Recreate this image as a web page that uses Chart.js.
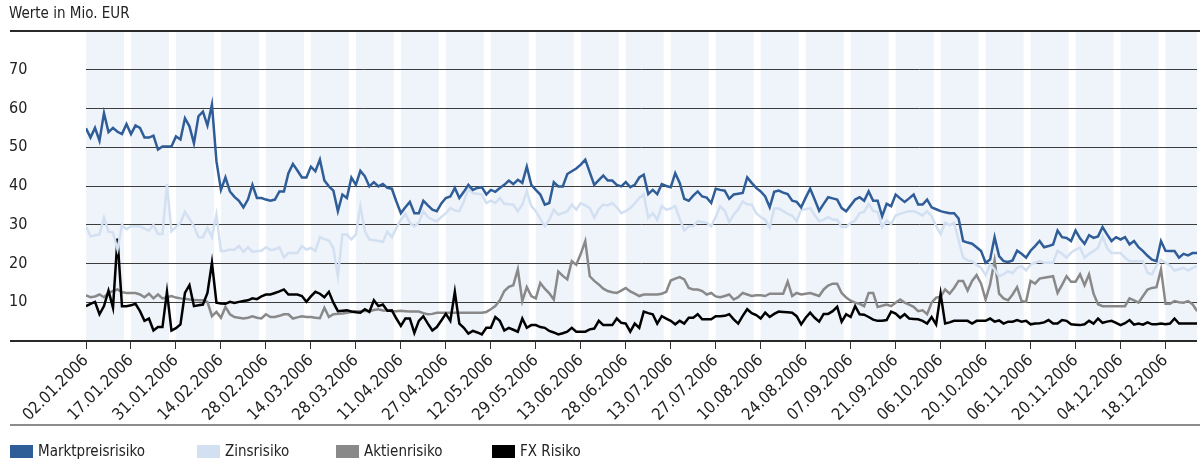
<!DOCTYPE html>
<html>
<head>
<meta charset="utf-8">
<script src="https://cdn.jsdelivr.net/npm/chart.js@4.4.1/dist/chart.umd.min.js"></script>
<style>
  html, body { margin: 0; padding: 0; background: #fff; }
  #wrap { position: relative; width: 1203px; height: 465px; }
  #legend { position: absolute; left: 10px; top: 442px; display: flex; color: #222;
    font: 15px "DejaVu Sans Condensed", "Liberation Sans Narrow", "Liberation Sans", sans-serif; }
  .item { display: flex; align-items: center; height: 18px; }
  .swatch { width: 23px; height: 13px; margin-right: 5px; }
</style>
</head>
<body>
<div id="wrap">
  <canvas id="chart" width="1203" height="465"></canvas>
  <div id="legend"></div>
</div>
<script>
const FONT = '"DejaVu Sans Condensed", "Liberation Sans Narrow", "Liberation Sans", sans-serif'

// every 10th trading day is labelled
const tickLabels = [
  '02.01.2006', '17.01.2006', '31.01.2006', '14.02.2006', '28.02.2006', '14.03.2006', '28.03.2006',
  '11.04.2006', '27.04.2006', '12.05.2006', '29.05.2006', '13.06.2006', '28.06.2006', '13.07.2006',
  '27.07.2006', '10.08.2006', '24.08.2006', '07.09.2006', '21.09.2006', '06.10.2006', '20.10.2006',
  '06.11.2006', '20.11.2006', '04.12.2006', '18.12.2006'
]
const yTicks = [10, 20, 30, 40, 50, 60, 70]

const marktpreisrisiko = [
  54.9, 52.5, 55, 51.7, 58.8, 53.9, 55, 54, 53.4, 56,
  53.4, 55.6, 55, 52.5, 52.5, 53, 49.4, 50.2, 50.2, 50.2,
  52.8, 52, 57.5, 55.4, 51, 58, 59.2, 55.6, 61, 46.4,
  39, 42.2, 38.6, 37.2, 36.2, 34.5, 36.5, 40.3, 36.9, 36.9,
  36.5, 36.2, 36.5, 38.6, 38.6, 43.3, 45.7, 44, 42.2, 42.2,
  45, 43.8, 46.8, 41.4, 39.9, 38.8, 33.5, 37.8, 36.9, 42.2,
  40.3, 43.9, 42.5, 39.9, 41, 39.9, 40.5, 39.5, 39.3, 36,
  33, 34.5, 35.9, 33, 33, 36.2, 35, 33.9, 33.5, 35.5,
  36.9, 37.3, 39.5, 36.9, 38.5, 40.3, 39, 39.5, 39.7, 37.8,
  39, 38.5, 39.5, 40.3, 41.4, 40.5, 41.6, 40.8, 45, 40.3,
  39, 37.8, 35.2, 35.6, 41, 39.9, 39.9, 43.1, 43.8, 44.5,
  45.5, 46.8, 43.5, 40.3, 41.5, 42.7, 41.4, 41.4, 40.3, 39.9,
  41, 39.7, 40.3, 42.2, 42.9, 37.9, 39, 37.9, 40.5, 40,
  39.7, 43.3, 40.8, 36.7, 36.2, 37.5, 38.6, 37.3, 37, 35.6,
  39.3, 39, 38.8, 36.7, 37.8, 38, 38.2, 42.2, 40.8, 39.5,
  38.6, 37.3, 34.5, 38.5, 38.8, 38.3, 37.9, 36.2, 35.9, 34.5,
  37, 39.3, 36.5, 33.6, 35.4, 37.1, 36.8, 36.5, 34.3, 33.5,
  35, 36.5, 37.1, 36.2, 38.6, 36.2, 36.2, 32.2, 35.4, 34.8,
  37.8, 36.8, 35.9, 36.8, 37.8, 35.2, 35.2, 36.5, 34.5, 34,
  33.5, 33.2, 33, 33, 31.6, 25.8, 25.4, 25.1, 24.2, 23.2,
  20.2, 21, 26.8, 21.9, 20.6, 20.4, 20.8, 23.3, 22.5, 21.5,
  23.3, 24.5, 25.8, 24.2, 24.5, 24.9, 28.5, 26.8, 26.6, 25.8,
  28.5, 26.5, 25.1, 27.3, 26.6, 27, 29.4, 27.5, 25.8, 26.8,
  26.2, 26.8, 24.9, 25.8, 24.2, 23.2, 22, 21, 20.6, 25.8,
  23.3, 23.2, 23.2, 21.5, 22.5, 22.1, 22.7, 22.7
]

const zinsrisiko = [
  29.6, 27, 27.3, 27.5, 31.8, 28.2, 28, 23.6, 30, 28.8,
  29.6, 29.6, 29.6, 29, 28.5, 29.9, 27.6, 27.6, 40.5, 28.3,
  29.4, 30.5, 33.3, 31.5, 29.6, 26.8, 26.8, 29.2, 26.8, 32.6,
  23.2, 23.3, 23.6, 23.5, 24.5, 23, 24.2, 23, 23.2, 23.3,
  24.2, 23.5, 23.6, 24.2, 21.6, 22.7, 22.7, 22.7, 24.5, 23.6,
  24, 23.2, 26.8, 26.3, 25.9, 24, 16.7, 27.5, 27.5, 26.2,
  27.5, 34.8, 28.3, 26.2, 26, 25.8, 25.6, 28.2, 26.8, 29.2,
  31.3, 32.8, 30.5, 29.6, 30.5, 33.5, 32, 31.3, 30.9, 32,
  33, 34.3, 33.7, 33.5, 36, 39.3, 38.2, 38, 37.8, 35.6,
  36.2, 35.6, 36.9, 35.4, 35.3, 35.2, 33.5, 35.2, 38.6, 34.8,
  33.5, 31.5, 29.6, 31.3, 33.9, 32.6, 33, 33.5, 35.2, 33.9,
  35.6, 35, 34.3, 31.8, 34, 35.2, 35, 35.6, 34.5, 33,
  33.5, 34.3, 35.5, 36.9, 37.8, 31.8, 33, 31.3, 34.8, 33.9,
  34.2, 34.8, 31.5, 28.5, 29.6, 29.6, 30.9, 30.7, 30.5, 29.6,
  32, 34.8, 33.6, 30.7, 32.6, 34, 36, 35.2, 35.2, 33,
  32, 31.3, 29.2, 34.2, 34.2, 33.5, 32.8, 32.4, 30.9, 33.9,
  34, 34.3, 32.5, 30.9, 31.3, 32, 31.3, 31.3, 29.4, 29.4,
  30.5, 31.1, 33, 33.3, 35.4, 33.6, 33.3, 29.4, 31.1, 30.2,
  32.4, 32.8, 33.2, 33.5, 33.5, 33, 32.4, 33.5, 32.2, 29.6,
  27.6, 30.5, 29.9, 30.5, 26, 21.5, 20.8, 20.6, 19.7, 18.9,
  17, 19.7, 18.5, 16.7, 17.2, 18, 17.5, 18.9, 19.3, 18.2,
  19.7, 20.2, 20.6, 20.2, 20.2, 20.2, 23.3, 22.5, 21.5, 22.8,
  23.6, 24.1, 21.5, 22.5, 23.2, 24.1, 27, 24, 22.7, 22.7,
  22.7, 21.5, 20.6, 20.6, 20.6, 20.6, 17.6, 17.2, 19.5, 21,
  20.2, 19.5, 18.2, 18.5, 18.9, 18.2, 18.8, 19.3
]

const aktienrisiko = [
  11.8, 11.3, 11.5, 12, 11.3, 12.4, 12.9, 13.3, 12.6, 12.4,
  12.4, 12.4, 12, 11.3, 12.2, 11, 12, 11, 11.3, 11.6,
  11.2, 11, 10.9, 10.7, 10.6, 10.5, 10.5, 10.1, 6.4, 7.5,
  6, 8.8, 6.9, 6.2, 6, 5.8, 6, 6.4, 6, 5.8,
  6.9, 6.2, 6.2, 6.5, 6.9, 6.9, 5.8, 6.1, 6.4, 6.2,
  6.2, 6, 5.9, 8.6, 6.2, 6.9, 7, 7.1, 7.3, 7.5,
  7.7, 7.7, 7.8, 7.7, 8, 8.2, 7.9, 7.9, 7.7, 7.7,
  7.8, 7.7, 7.6, 7.6, 7.6, 7.2, 6.9, 7, 7.3, 7.3,
  7.3, 7.3, 7.3, 7.3, 7.3, 7.3, 7.3, 7.3, 7.3, 7.5,
  8.2, 9, 10.5, 12.9, 14, 14.4, 18.5, 10.3, 13.9, 11.6,
  11, 15, 13.5, 12.3, 10.7, 17.9, 16.8, 15.9, 20.6, 19.7,
  22.5, 25.8, 16.7, 15.5, 14.6, 13.5, 12.9, 12.6, 12.4, 13,
  13.7, 12.8, 12.2, 11.6, 12, 12, 12, 12, 12.2, 12.7,
  15.6, 16.1, 16.5, 15.9, 13.7, 13.3, 13.3, 12.9, 12, 12.4,
  11.5, 11.3, 11.6, 12, 10.7, 11.3, 12.4, 12, 11.6, 11.8,
  11.8, 11.6, 12.2, 12.2, 12.2, 12.2, 15.3, 11.6, 12.4, 12,
  12.2, 12.4, 12, 11.6, 13.3, 14.3, 14.8, 14.8, 12.4, 11.2,
  10.4, 9.9, 9.6, 9, 12.4, 12.4, 8.8, 9.1, 9.4, 9,
  9.9, 10.7, 9.9, 9.4, 8.8, 7.7, 7.9, 6.9, 9.9, 11.2,
  11.4, 13.3, 12.2, 13.7, 15.5, 15.5, 13, 15.5, 17, 14.8,
  10.7, 14.6, 20.8, 12.2, 11, 10.5, 12, 13.9, 10.3, 10.1,
  15.5, 14.8, 16.1, 16.3, 16.5, 16.7, 12.4, 14.5, 16.7, 15.3,
  15.3, 17.2, 14.4, 17.2, 12.2, 9.5, 9, 9, 9, 9,
  9, 9, 11, 10.5, 9.9, 11.6, 13.3, 13.7, 13.9, 18.5,
  9.6, 9.6, 10.3, 10, 9.9, 10.3, 9.5, 7.7
]

const fxRisiko = [
  9, 9.6, 10.1, 6.9, 9, 13, 8.6, 26.4, 9, 9,
  9.2, 9.6, 7.7, 5.2, 5.8, 2.7, 3.6, 3.6, 12.7, 2.7,
  3.3, 4.3, 12.4, 14.4, 9, 9.2, 9.4, 12.4, 20.2, 9.9,
  9.7, 9.6, 10.1, 9.8, 10.1, 10.3, 10.5, 11, 10.8, 11.5,
  12, 12, 12.4, 12.8, 13.3, 12, 12, 12, 11.6, 10.1,
  11.5, 12.7, 12.2, 11.3, 12.7, 9.9, 7.7, 7.8, 7.9, 7.6,
  7.4, 7.3, 8.2, 7.5, 10.5, 9, 9.4, 7.8, 7.9, 5.8,
  3.9, 5.8, 5.8, 2.1, 5.2, 6.4, 4.5, 2.7, 3.6, 5.3,
  7, 5.2, 12.7, 4.5, 3.4, 1.9, 2.6, 2.2, 1.7, 3.4,
  3.4, 6.2, 5.2, 2.7, 3.4, 2.9, 2.4, 5.8, 3.4, 4.1,
  4.1, 3.6, 3.4, 2.6, 2.2, 1.7, 2, 2.4, 3.4, 2.4,
  2.4, 2.4, 3, 3.2, 5.2, 4.1, 4.1, 4.1, 5.8, 4.7,
  4.5, 2.4, 4.5, 3.4, 7.6, 7.2, 6.9, 4.5, 6.4, 5.8,
  5.2, 4.3, 5.2, 4.5, 6, 6, 6.9, 5.6, 5.6, 5.6,
  6.4, 6.4, 6.5, 6.9, 5.6, 4.5, 6.5, 8.2, 7.2, 6.7,
  5.8, 7.3, 6.2, 7, 7.6, 7.5, 7.4, 7.3, 6.4, 4.3,
  6, 7.3, 6, 5, 7, 7, 7.7, 8.8, 5, 6.9,
  6.2, 9, 6.9, 6.8, 6.2, 5.5, 5.2, 5.2, 5.4, 7.6,
  7.1, 6, 6.9, 5.8, 5.7, 5.6, 5.2, 4.5, 6.2, 4.3,
  12.2, 4.5, 4.8, 5.2, 5.2, 5.2, 5.2, 4.5, 5.2, 5.2,
  5.2, 5.8, 5, 5.3, 4.5, 5, 5, 5.4, 5, 5.2,
  4.3, 4.5, 4.6, 4.8, 5.4, 4.5, 4.5, 5.4, 5.2, 4.3,
  4.2, 4.1, 4.3, 5.2, 4.5, 5.8, 4.7, 5, 5.2, 4.7,
  4.1, 4.6, 5.4, 4.2, 4.5, 4.2, 4.8, 4.3, 4.3, 4.5,
  4.3, 4.5, 5.8, 4.5, 4.5, 4.5, 4.5, 4.5
]

const dayCount = marktpreisrisiko.length
const toPoints = values => values.map((y, x) => ({ x, y }))

// light bands behind every 10-day block, plus the long rules
const frame = {
  id: 'frame',
  beforeDraw(chart) {
    const { ctx, chartArea: area, scales: { x } } = chart
    ctx.save()
    ctx.fillStyle = '#eff3fa'
    tickLabels.forEach((_, i) => {
      const x0 = x.getPixelForValue(i * 10)
      const x1 = Math.min(x.getPixelForValue(i * 10 + 10) - 7, area.right)
      ctx.fillRect(x0, area.top, x1 - x0, area.bottom - area.top)
    })
    ctx.restore()
  },
  afterDraw(chart) {
    const { ctx, chartArea: area } = chart
    const rule = (x0, y, x1, color) => {
      ctx.beginPath()
      ctx.strokeStyle = color
      ctx.moveTo(x0, y)
      ctx.lineTo(x1, y)
      ctx.stroke()
    }
    ctx.save()
    ctx.lineWidth = 2
    rule(10, area.top, 1200, '#2a2a2a')
    rule(10, area.bottom, area.right, '#2a2a2a')
    rule(10, area.bottom + 84, 1200, '#8c8c8c')
    ctx.restore()
  }
}

const series = [
  { label: 'Marktpreisrisiko', values: marktpreisrisiko, color: '#2f5d97', order: 0 },
  { label: 'Zinsrisiko', values: zinsrisiko, color: '#d2e0f2', order: 1 },
  { label: 'Aktienrisiko', values: aktienrisiko, color: '#898989', order: 3 },
  { label: 'FX Risiko', values: fxRisiko, color: '#000000', order: 2 }
]

const chart = new Chart(document.getElementById('chart'), {
  type: 'line',
  data: {
    datasets: series.map(s => ({
      label: s.label,
      data: toPoints(s.values),
      borderColor: s.color,
      backgroundColor: s.color,
      borderWidth: 2.5,
      pointRadius: 0,
      tension: 0,
      order: s.order
    }))
  },
  options: {
    responsive: false,
    animation: false,
    layout: { padding: { left: 9, right: 6, top: 0, bottom: 40 } },
    plugins: {
      legend: { display: false },
      tooltip: { enabled: false },
      title: {
        display: true,
        text: 'Werte in Mio. EUR',
        align: 'start',
        color: '#222',
        font: { family: FONT, size: 15, weight: 'normal' },
        padding: { top: 5, bottom: 8 }
      }
    },
    scales: {
      x: {
        type: 'linear',
        min: 0,
        max: dayCount - 1,
        bounds: 'data',
        afterBuildTicks: scale => { scale.ticks = tickLabels.map((_, i) => ({ value: i * 10 })) },
        afterFit: scale => { scale.height = 84 },
        ticks: {
          autoSkip: false,
          minRotation: 45,
          maxRotation: 45,
          padding: 2,
          color: '#222',
          font: { family: FONT, size: 16.5 },
          callback: (value, index) => tickLabels[index]
        },
        grid: { drawOnChartArea: false, drawTicks: true, tickLength: 8, color: '#333' },
        border: { display: false }
      },
      y: {
        min: 0,
        max: 80,
        afterBuildTicks: scale => { scale.ticks = yTicks.map(value => ({ value })) },
        afterFit: scale => { scale.width = 77 },
        ticks: {
          crossAlign: 'far',
          color: '#222',
          font: { family: FONT, size: 16 }
        },
        grid: { color: '#3c3c3c', lineWidth: 1, drawTicks: false },
        border: { display: false }
      }
    }
  },
  plugins: [frame]
})

// html legend built from the datasets
const legend = document.getElementById('legend')
const itemWidths = [187, 139, 156, 0]
chart.data.datasets.forEach((ds, i) => {
  const item = document.createElement('div')
  item.className = 'item'
  if (itemWidths[i]) item.style.width = itemWidths[i] + 'px'
  const swatch = document.createElement('span')
  swatch.className = 'swatch'
  swatch.style.background = ds.borderColor
  const text = document.createElement('span')
  text.textContent = ds.label
  item.append(swatch, text)
  legend.appendChild(item)
})
</script>
</body>
</html>
